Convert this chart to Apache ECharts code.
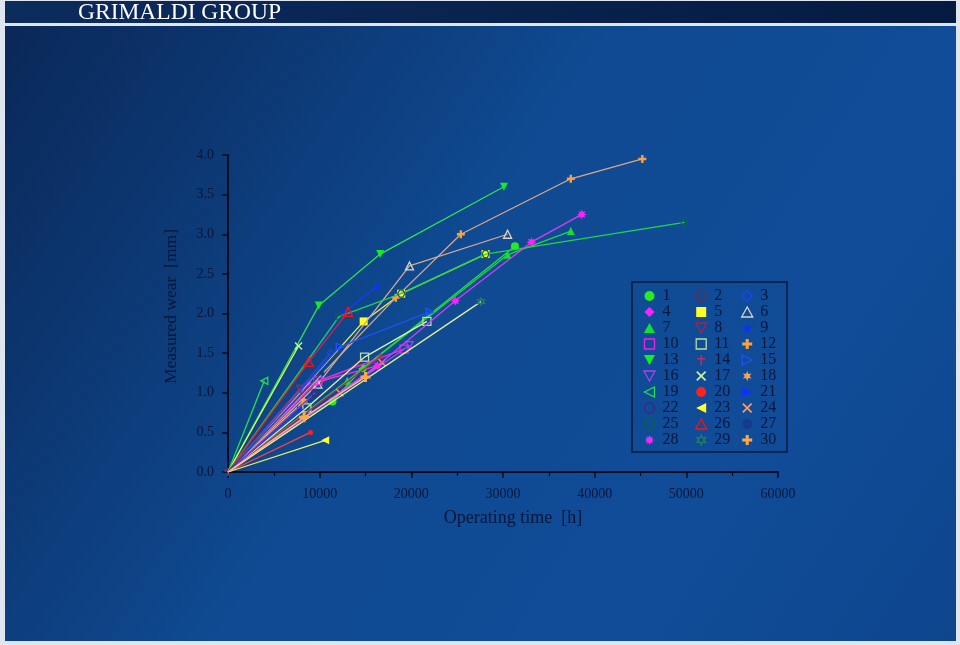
<!DOCTYPE html>
<html>
<head>
<meta charset="utf-8">
<script src="https://cdn.jsdelivr.net/npm/echarts@6/dist/echarts.min.js"></script>
<style>html,body{margin:0;padding:0;background:#dfe6ef}#c{width:960px;height:645px}</style>
</head>
<body>
<div id="c"></div>
<script>
// ---- data (operating time [h], measured wear [mm]) ----
const seriesNames = ['1','2','3','4','5','6','7','8','9','10','11','12','13','14','15','16','17','18','19','20','21','22','23','24','25','26','27','28','29','30'];
const xTicks = [0,10000,20000,30000,40000,50000,60000];
const yTicks = [0.0,0.5,1.0,1.5,2.0,2.5,3.0,3.5,4.0];
const s1  = [[0,0],[11400,0.89],[14700,1.31],[31300,2.85]];
const s2  = [[0,0],[8300,1.02],[14200,1.36]];
const s3  = [[0,0],[11200,1.50]];
const s4  = [[0,0],[8800,1.11],[16300,1.34]];
const s5  = [[0,0],[14800,1.90],[18900,2.25],[28100,2.75]];
const s6  = [[0,0],[9800,1.11],[19800,2.60],[30500,3.00]];
const s7  = [[0,0],[13000,1.15],[30500,2.74],[37400,3.04]];
const s8  = [[0,0],[7900,1.05]];
const s9  = [[0,0],[12500,2.00],[16300,2.35]];
const s10 = [[0,0],[9800,1.15],[19200,1.55]];
const s11 = [[0,0],[8600,0.81],[14900,1.45],[21700,1.90]];
const s12 = [[0,0],[18300,2.20],[25400,3.00],[37400,3.70],[45200,3.95]];
const s13 = [[0,0],[9900,2.10],[16600,2.75],[30100,3.60]];
const s14 = [[0,0],[16600,1.45]];
const s15 = [[0,0],[12200,1.58],[22000,2.02]];
const s16 = [[0,0],[19800,1.60]];
const s17 = [[0,0],[7700,1.59]];
const s18 = [[0,0],[8300,0.90]];
const s19 = [[0,0],[3960,1.15]];
const s20 = [[0,0],[9000,0.50]];
const s21 = [[0,0],[7900,0.79]];
const s22 = [[0,0],[9500,1.00]];
const s23 = [[0,0],[10600,0.40]];
const s24 = [[0,0],[12200,1.00],[16800,1.38]];
const s25 = [[0,0],[12100,1.96],[18900,2.25],[28100,2.75],[49800,3.15]];
const s26 = [[0,0],[8800,1.39],[13100,2.02]];
const s27 = [[0,0],[10200,1.25]];
const s28 = [[0,0],[16300,1.34],[24800,2.16],[33100,2.90],[38600,3.25]];
const s29 = [[0,0],[27600,2.15]];
const s30 = [[0,0],[8300,0.69],[15000,1.20]];
const allData = [s1,s2,s3,s4,s5,s6,s7,s8,s9,s10,s11,s12,s13,s14,s15,s16,s17,s18,s19,s20,s21,s22,s23,s24,s25,s26,s27,s28,s29,s30];

// ---- marker shapes and styles ----
const PLUS = 'path://M3.5,0H6.5V3.5H10V6.5H6.5V10H3.5V6.5H0V3.5H3.5Z';
const DAGGER = 'path://M4.3,0H5.7V3H9V4.4H5.7V10H4.3V4.4H1V3H4.3Z';
const XS = 'path://M0,1.2L1.2,0L5,3.8L8.8,0L10,1.2L6.2,5L10,8.8L8.8,10L5,6.2L1.2,10L0,8.8L3.8,5Z';
const STAR5 = 'path://M5,0L6.18,3.62L10,3.62L6.91,5.86L8.09,9.5L5,7.26L1.91,9.5L3.09,5.86L0,3.62L3.82,3.62Z';
const STAR6 = 'path://M5,0L6.2,2.9L9.3,2.5L7.4,5L9.3,7.5L6.2,7.1L5,10L3.8,7.1L0.7,7.5L2.6,5L0.7,2.5L3.8,2.9Z';
const GEAR = 'path://M5,0L6,2.6L8.5,1.5L7.4,4L10,5L7.4,6L8.5,8.5L6,7.4L5,10L4,7.4L1.5,8.5L2.6,6L0,5L2.6,4L1.5,1.5L4,2.6Z';
const RTRI = 'path://M0,0L10,5L0,10Z';
const LTRI = 'path://M10,0L0,5L10,10Z';
const DTRI = 'path://M0,0L10,0L5,9Z';
const UTRI = 'path://M5,0L10,9L0,9Z';
const HEX = 'path://M2.5,0.7L7.5,0.7L10,5L7.5,9.3L2.5,9.3L0,5Z';
const DIAM = 'path://M5,0L10,5L5,10L0,5Z';
const SQ = 'path://M0,0H10V10H0Z';
// [symbol, marker colour, line colour, hollow, size]
const styles = [
 ['circle','#22ee22','#22dd44',false,8],
 ['circle','#6a2a48','#c03060',true,6],
 [DIAM,'#2040ff','#2a48e8',true,7],
 [DIAM,'#ff22ff','#e040e0',false,7],
 [SQ,'#ffff22','#f0f040',false,8],
 [UTRI,'#dcd4cc','#d4aa90',true,8],
 [UTRI,'#11e033','#22d444',false,8],
 [DTRI,'#b02048','#d03058',true,7],
 [STAR5,'#1030ff','#1a38ff',false,9],
 [SQ,'#f020f0','#e030f0',true,8],
 [SQ,'#b8e0a0','#e0f0a8',true,8],
 [PLUS,'#ffa040','#d8a888',false,8],
 [DTRI,'#10f020','#30e050',false,8],
 [DAGGER,'#d02858','#c02848',false,8],
 [RTRI,'#2050ff','#2050f0',true,7],
 [DTRI,'#b040f0','#a848e8',true,7],
 [XS,'#d0f0a0','#e0ff60',false,8],
 [STAR6,'#ffa050','#ffb070',false,8],
 [LTRI,'#22e044','#28e048',true,7],
 ['circle','#ff2020','#ff4040',false,5],
 [RTRI,'#1030ff','#2040ff',false,7],
 ['circle','#3a2a80','#8040c0',true,7],
 [LTRI,'#ffff30','#e8f060',false,8],
 [XS,'#ff9a60','#ff90a8',false,8],
 [HEX,'#106050','#22d444',true,7],
 [UTRI,'#ff1010','#e02030',true,9],
 ['circle','#153a90','#2048a8',false,5],
 [GEAR,'#ff22ff','#d040f0',false,10],
 [STAR6,'#208060','#e8f090',true,7],
 [PLUS,'#ffa848','#ffb888',false,10]
];

function itemStyleOf(st){
  return st[3] ? {color:'rgba(0,0,0,0)', borderColor:st[1], borderWidth:1.3}
               : {color:st[1], borderWidth:0};
}

const series = allData.map((arr, i) => {
  const st = styles[i];
  return {
    type:'line', name: seriesNames[i],
    data: arr.map(p => (p[0] === 0 && i !== 13) ? {value:p, symbol:'none'} : p),
    symbol: st[0], symbolSize: st[4], showSymbol: true,
    lineStyle:{color: st[2], width: 1.3},
    itemStyle: itemStyleOf(st),
    emphasis:{disabled:true}, silent:true, z: 2 + i/100
  };
});

const serif = 'Liberation Serif, "DejaVu Serif", serif';
const txtCol = '#08163a';
function legendCol(start, left){
  const d = [];
  for (let k = start; k < 30; k += 3) {
    const st = styles[k];
    d.push({name: seriesNames[k], icon: st[0], itemStyle: itemStyleOf(st)});
  }
  return {
    orient:'vertical', left: left, top: 288, padding: 0,
    itemWidth: 16, itemHeight: 10, itemGap: 0, selectedMode: false,
    textStyle:{fontFamily: serif, fontSize: 16, color: txtCol, lineHeight: 16},
    data: d
  };
}

const chart = echarts.init(document.getElementById('c'), null, {renderer:'canvas'});
chart.setOption({
  animation: false,
  backgroundColor: '#dfe6ef',
  graphic: [
    {type:'rect', z:-100, shape:{x:5,y:26,width:951,height:615},
     style:{fill:{type:'linear',x:0,y:0,x2:1,y2:1,colorStops:[
       {offset:0,color:'#0a2858'},{offset:0.45,color:'#0f4a92'},{offset:0.75,color:'#104c98'},{offset:1,color:'#0e468e'}]}}},
    {type:'rect', z:-100, shape:{x:5,y:1,width:951,height:22},
     style:{fill:{type:'linear',x:0,y:0,x2:1,y2:0,colorStops:[
       {offset:0,color:'#0c2c5e'},{offset:1,color:'#051a40'}]}}},
    {type:'text', z:-90, left:78, top:1,
     style:{text:'GRIMALDI GROUP', fill:'#ffffff', font:'23.5px ' + serif}},
    {type:'rect', z:-50, shape:{x:632,y:282,width:155,height:170},
     style:{fill:'rgba(0,0,0,0)', stroke:'#0a1838', lineWidth:1.5}}
  ],
  grid:{left:228, right:182, top:155, bottom:173, containLabel:false},
  xAxis:{
    type:'value', min:0, max:60000, interval:10000,
    axisLine:{show:true, onZero:false, lineStyle:{color:'#020a1e', width:2}},
    axisTick:{show:true, length:6, lineStyle:{color:'#020a1e', width:1.5}},
    minorTick:{show:true, splitNumber:2, length:4, lineStyle:{color:'#020a1e', width:1.2}},
    splitLine:{show:false},
    axisLabel:{margin:15, fontFamily:serif, fontSize:14, color:txtCol,
      formatter: v => String(v)},
    name:'Operating time  [h]', nameLocation:'middle', nameGap:37,
    nameTextStyle:{fontFamily:serif, fontSize:18, color:txtCol, padding:[0,0,0,20]}
  },
  yAxis:{
    type:'value', min:0, max:4, interval:0.5,
    axisLine:{show:true, onZero:false, lineStyle:{color:'#020a1e', width:2}},
    axisTick:{show:true, length:6, lineStyle:{color:'#020a1e', width:1.5}},
    splitLine:{show:false},
    axisLabel:{margin:14, fontFamily:serif, fontSize:14, color:txtCol,
      formatter: v => v.toFixed(1)},
    name:'Measured wear  [mm]', nameLocation:'middle', nameGap:48, nameRotate:90,
    nameTextStyle:{fontFamily:serif, fontSize:17.5, color:txtCol, padding:[0,0,0,14]}
  },
  legend:[legendCol(0,643), legendCol(1,695), legendCol(2,741)],
  series: series
});
</script>
</body>
</html>
